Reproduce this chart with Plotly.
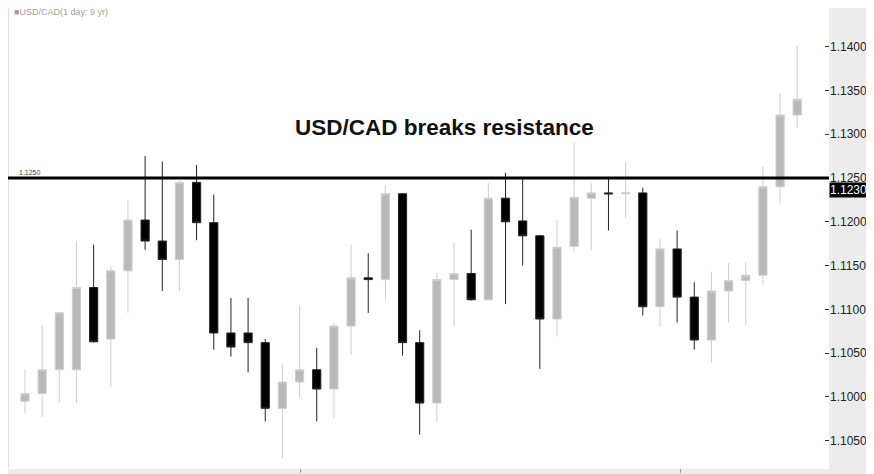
import plotly.graph_objects as go

# USD/CAD daily candles
days = list(range(1, 47))
opens = [1.0995, 1.1004, 1.1031, 1.1031, 1.1125, 1.1066, 1.1144, 1.1202, 1.1178, 1.1157,
         1.1245, 1.1199, 1.1073, 1.1073, 1.1062, 1.0987, 1.1017, 1.1031, 1.1009, 1.1081,
         1.1136, 1.1134, 1.1232, 1.1062, 1.0993, 1.1134, 1.1141, 1.1111, 1.1227, 1.1201,
         1.1184, 1.1089, 1.1172, 1.1227, 1.1233, 1.1232, 1.1233, 1.1103, 1.1169, 1.1114,
         1.1065, 1.1121, 1.1133, 1.1139, 1.1240, 1.1322]
highs = [1.1032, 1.1082, 1.1097, 1.1178, 1.1174, 1.1149, 1.1225, 1.1275, 1.1269, 1.1247,
         1.1265, 1.1231, 1.1113, 1.1113, 1.1066, 1.1037, 1.1104, 1.1056, 1.1085, 1.1174,
         1.1164, 1.1242, 1.1233, 1.1076, 1.1142, 1.1176, 1.1191, 1.1244, 1.1256, 1.1249,
         1.1185, 1.1202, 1.1290, 1.1244, 1.1251, 1.1268, 1.1239, 1.1180, 1.1190, 1.1131,
         1.1143, 1.1153, 1.1154, 1.1263, 1.1347, 1.1401]
lows = [1.0982, 1.0977, 1.0993, 1.0993, 1.1062, 1.1011, 1.1096, 1.1168, 1.1121, 1.1121,
        1.1179, 1.1054, 1.1046, 1.1028, 1.0972, 1.0930, 1.0999, 1.0972, 1.0976, 1.1048,
        1.1096, 1.1111, 1.1047, 1.0957, 1.0971, 1.1081, 1.1110, 1.1110, 1.1106, 1.1150,
        1.1032, 1.1069, 1.1166, 1.1168, 1.1190, 1.1204, 1.1093, 1.1080, 1.1085, 1.1054,
        1.1039, 1.1085, 1.1082, 1.1128, 1.1221, 1.1308]
closes = [1.1004, 1.1031, 1.1096, 1.1125, 1.1063, 1.1144, 1.1202, 1.1178, 1.1157, 1.1245,
          1.1199, 1.1073, 1.1057, 1.1062, 1.0987, 1.1017, 1.1031, 1.1009, 1.1081, 1.1136,
          1.1134, 1.1232, 1.1062, 1.0993, 1.1134, 1.1141, 1.1111, 1.1227, 1.1200, 1.1184,
          1.1089, 1.1171, 1.1228, 1.1233, 1.1232, 1.1233, 1.1103, 1.1169, 1.1114, 1.1065,
          1.1121, 1.1133, 1.1139, 1.1240, 1.1322, 1.1340]

price_ticks = [1.0950, 1.1000, 1.1050, 1.1100, 1.1150, 1.1200, 1.1250, 1.1300, 1.1350, 1.1400]
price_labels = ["1.1050", "1.1000", "1.1050", "1.1100", "1.1150", "1.1200", "1.1250", "1.1300", "1.1350", "1.1400"]
resistance = 1.1250
last_price = 1.1230

fig = go.Figure()

fig.add_trace(go.Candlestick(
    x=days, open=opens, high=highs, low=lows, close=closes,
    increasing=dict(fillcolor="#b9b9b9", line=dict(color="#cdcdcd", width=1)),
    decreasing=dict(fillcolor="#000000", line=dict(color="#222222", width=1)),
    showlegend=False, hoverinfo="skip"))

# grey band behind the price axis and along the bottom
fig.add_shape(type="rect", xref="paper", yref="paper", x0=1, x1=1.2, y0=-0.1, y1=1.0,
              fillcolor="#ececec", line_width=0, layer="below")
fig.add_shape(type="rect", xref="paper", yref="paper", x0=-0.05, x1=1.2, y0=-0.1, y1=-0.002,
              fillcolor="#ececec", line_width=0, layer="below")
fig.add_shape(type="line", xref="paper", yref="paper", x0=0, x1=0, y0=0, y1=1.0,
              line=dict(color="#e2e2e2", width=2))

# resistance line
fig.add_shape(type="line", xref="paper", yref="y", x0=0, x1=1, y0=resistance, y1=resistance,
              line=dict(color="#000000", width=3))
fig.add_annotation(x=0.011, xref="paper", y=resistance, yref="y", text="1.1250",
                   showarrow=False, xanchor="left", yanchor="bottom", yshift=0,
                   font=dict(size=7, color="#444444"))

fig.add_annotation(x=1, xref="paper", y=last_price, yref="y", text="1.1230",
                   showarrow=False, xanchor="left", yanchor="middle", yshift=6,
                   bgcolor="#000000", borderpad=0,
                   font=dict(size=12, color="#ffffff", family="Liberation Sans"))

fig.add_annotation(x=0.005, xref="paper", y=1.0, yref="paper", text="■USD/CAD(1 day: 9 yr)",
                   showarrow=False, xanchor="left", yanchor="middle", yshift=-4,
                   font=dict(size=9, color="#a0a0a0"))

fig.add_annotation(x=0.532, xref="paper", y=1.1308, yref="y", text="<b>USD/CAD breaks resistance</b>",
                   showarrow=False, xanchor="center", yanchor="middle",
                   font=dict(size=22.5, color="#111111", family="Liberation Sans"))

fig.update_layout(
    width=874, height=474,
    margin=dict(l=0, r=53, t=0, b=14),
    paper_bgcolor="#ffffff", plot_bgcolor="#ffffff",
    font=dict(family="Liberation Sans", color="#222222"),
    boxgap=0.32,
)
fig.update_xaxes(range=[0.01, 47.85], rangeslider_visible=False, showgrid=False, zeroline=False,
                 tickvals=[17.08, 39.17], ticktext=["", ""], ticks="outside", ticklen=4,
                 tickcolor="#999999", showline=False)
fig.update_yaxes(side="right", range=[1.09188, 1.14442], tickvals=price_ticks, ticktext=price_labels,
                 showgrid=False, zeroline=False, ticks="inside", ticklen=4, tickcolor="#333333",
                 tickfont=dict(size=12, color="#222222"), ticklabelstandoff=0)

fig.write_html("out.html", config={"displayModeBar": False})
